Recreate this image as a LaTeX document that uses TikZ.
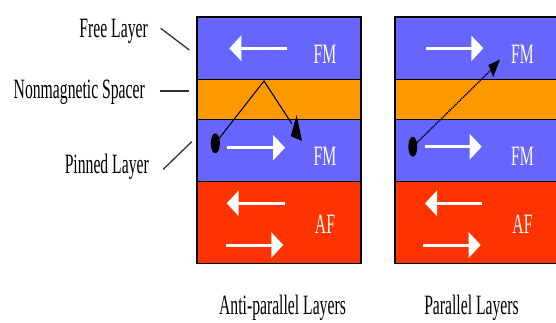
\documentclass[tikz,border=0pt]{standalone}
\usepackage{fontspec}
\setmainfont{Liberation Serif}
\usetikzlibrary{arrows.meta}
\definecolor{fmblue}{RGB}{102,102,255}
\definecolor{spacer}{RGB}{255,153,0}
\definecolor{afred}{RGB}{255,51,0}
\newcommand{\sq}[1]{\scalebox{0.56}[1]{#1}}
\tikzset{
  lbl/.style={inner sep=0pt, font=\fontsize{28}{32}\selectfont, text=black},
  wlbl/.style={inner sep=0pt, font=\fontsize{28}{32}\selectfont, text=white, anchor=base},
  layer/.style={draw=black, line width=1.5pt},
  spin/.style={draw=white, line width=3pt, -{Triangle[length=12pt,width=25pt,fill=white]}},
  leader/.style={draw=black!80, line width=1.3pt},
  path1/.style={draw=black, line width=1.1pt},
  path2/.style={draw=black, line width=1.4pt, dash pattern=on 1.2pt off 0.8pt},
}
\begin{document}
\begin{tikzpicture}[x=1pt,y=-1pt]
\clip (0,0) rectangle (556,322);
\fill[white] (0,0) rectangle (556,322);
% left stack
\draw[layer, fill=fmblue] (197,17) rectangle (361,79.3);
\draw[layer, fill=spacer] (197,79.3) rectangle (361,119.3);
\draw[layer, fill=fmblue] (197,119.3) rectangle (361,181.7);
\draw[layer, fill=afred] (197,181.7) rectangle (361,263.3);
% right stack
\draw[layer, fill=fmblue] (395,17) rectangle (559,79.3);
\draw[layer, fill=spacer] (395,79.3) rectangle (559,119.3);
\draw[layer, fill=fmblue] (395,119.3) rectangle (559,181.7);
\draw[layer, fill=afred] (395,181.7) rectangle (559,263.3);
% spin arrows left
\coordinate (a1s) at (287,48.3); \coordinate (a1e) at (229.3,48.3);
\coordinate (a2s) at (227.3,147.7); \coordinate (a2e) at (285,147.7);
\coordinate (a3s) at (285,203.3); \coordinate (a3e) at (226.7,203.3);
\coordinate (a4s) at (226,245); \coordinate (a4e) at (283.3,245);
\draw[spin] (a1s) -- (a1e);
\draw[spin] (a2s) -- (a2e);
\draw[spin] (a3s) -- (a3e);
\draw[spin] (a4s) -- (a4e);
% spin arrows right
\coordinate (b1s) at (426,48.3); \coordinate (b1e) at (483.3,48.3);
\coordinate (b2s) at (425,146.7); \coordinate (b2e) at (481.7,146.7);
\coordinate (b3s) at (481.7,203.3); \coordinate (b3e) at (425,203.3);
\coordinate (b4s) at (423.3,245); \coordinate (b4e) at (480.7,245);
\draw[spin] (b1s) -- (b1e);
\draw[spin] (b2s) -- (b2e);
\draw[spin] (b3s) -- (b3e);
\draw[spin] (b4s) -- (b4e);
% layer labels
\node[wlbl] (fm1) at (325,63) {\sq{FM}};
\node[wlbl] (fm2) at (325,165) {\sq{FM}};
\node[wlbl] (af1) at (325,233) {\sq{AF}};
\node[wlbl] (fm3) at (522.5,63) {\sq{FM}};
\node[wlbl] (fm4) at (522.5,165) {\sq{FM}};
\node[wlbl] (af2) at (522.5,233) {\sq{AF}};
% electron paths
\coordinate (d1) at (215.3,143.3);
\coordinate (pk) at (264,81);
\coordinate (e1) at (292,124);
\draw[path1] (d1) -- (pk) -- (e1);
\fill[black] (d1) ellipse [x radius=4.6pt, y radius=10pt];
\fill[black] (290.7,136) -- (296.7,115) -- (302,141) -- cycle;
\coordinate (d2) at (412.8,146.7);
\coordinate (e2) at (491,70);
\draw[path2] (d2) -- (e2);
\fill[black] (d2) ellipse [x radius=4.5pt, y radius=10pt];
\fill[black] (488.3,65) -- (500,59.5) -- (493.3,77) -- cycle;
% side labels
\node[lbl, anchor=base east] (free) at (148,37) {\sq{Free Layer}};
\node[lbl, anchor=base east] (spc) at (145,98) {\sq{Nonmagnetic Spacer}};
\node[lbl, anchor=base east] (pin) at (149,173.5) {\sq{Pinned Layer}};
\coordinate (f1) at (160.7,28.3); \coordinate (f2) at (189.3,50);
\coordinate (s1) at (160,91); \coordinate (s2) at (189,91);
\coordinate (p1) at (163.3,169.3); \coordinate (p2) at (191.7,141.7);
\draw[leader] (f1) -- (f2);
\draw[leader] (s1) -- (s2);
\draw[leader] (p1) -- (p2);
% captions
\node[lbl, anchor=base] (cap1) at (282.5,314) {\sq{Anti-parallel Layers}};
\node[lbl, anchor=base] (cap2) at (471.5,314) {\sq{Parallel Layers}};
\end{tikzpicture}
\end{document}
